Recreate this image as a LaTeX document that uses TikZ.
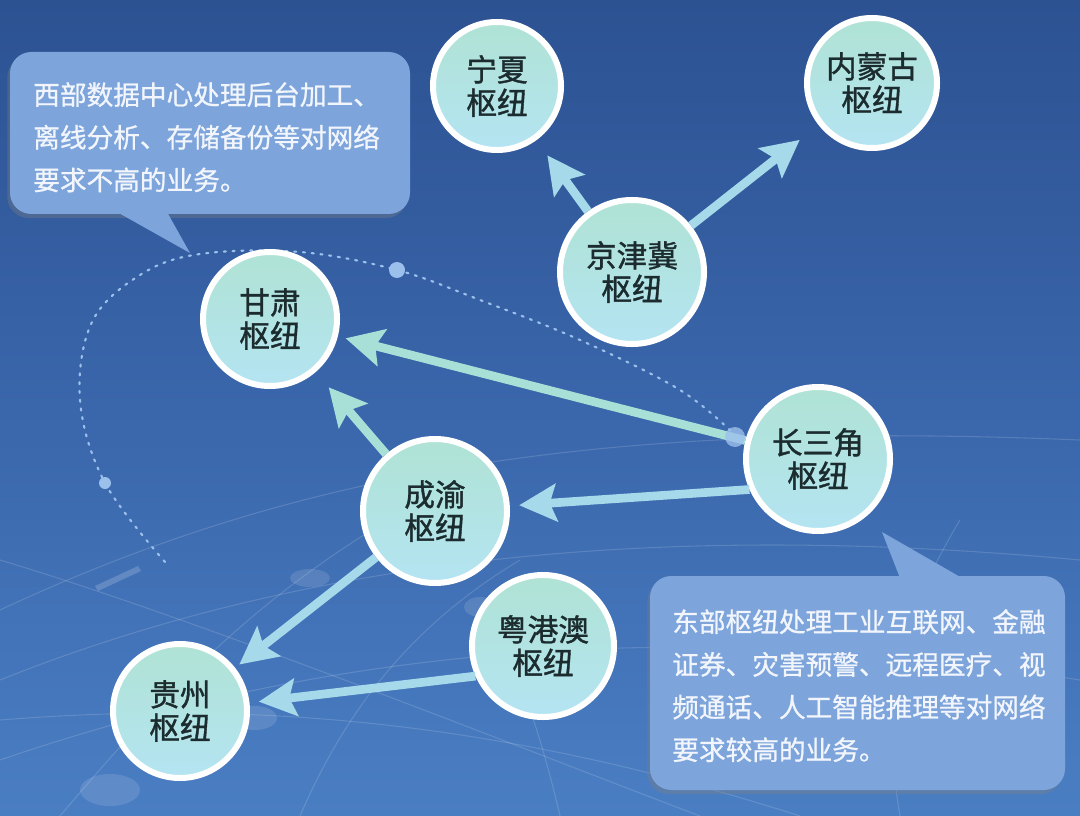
\documentclass[tikz,border=0pt]{standalone}
\usepackage{fontspec}
\newfontfamily\cjk{Noto Sans CJK SC}
\newfontfamily\cjkh[FakeBold=1.2]{Noto Sans CJK SC}
\newfontfamily\cjkc[FakeBold=0.8]{Noto Sans CJK SC}
\usetikzlibrary{arrows.meta,shadows,calc}
\definecolor{bgtop}{HTML}{2C5292}
\definecolor{bgmid}{HTML}{3A66AB}
\definecolor{bgbot}{HTML}{4A7EC3}
\definecolor{arrowc}{HTML}{A6D9EA}
\definecolor{arrowg}{HTML}{A8E0D8}
\definecolor{fillA}{HTML}{B0E3D5}
\definecolor{fillB}{HTML}{B4E4F2}
\definecolor{ntext}{HTML}{1B2B2E}
\definecolor{callfill}{HTML}{7DA5DB}
\definecolor{calltxt}{HTML}{F2F6FC}
\definecolor{orbitc}{HTML}{9CC0EC}
\tikzset{
  hub/.style={circle, draw=white, line width=4.5pt, top color=fillA, bottom color=fillB,
    text=ntext, align=center, inner sep=0pt, font=\cjkh\fontsize{23}{25}\selectfont},
  arr/.style={draw=arrowc, line width=6.5pt, -{Stealth[length=28pt,width=28pt,inset=5pt]}},
  callout/.style={fill=callfill, drop shadow={opacity=0.35, shadow xshift=-2pt, shadow yshift=-3pt}},
  calltext/.style={text=calltxt, align=left, inner sep=0pt, anchor=north west,
    font=\cjkc\fontsize{20}{32}\selectfont},
  deco/.style={draw=white, opacity=0.14, line width=0.8pt},
  orbit/.style={draw=orbitc, line width=1.6pt, dash pattern=on 1.6pt off 5pt, line cap=round}
}
\begin{document}
\begin{tikzpicture}[x=0.75pt,y=-0.75pt]
% background
\shade[top color=bgtop, bottom color=bgbot, middle color=bgmid] (0,0) rectangle (1080,816);
\useasboundingbox (0,0) rectangle (1080,816);
% faint globe lines
\draw[deco] (0,610) .. controls (300,470) and (600,420) .. (1080,440);
\draw[deco] (0,680) .. controls (300,560) and (650,520) .. (1080,560);
\draw[deco] (0,760) .. controls (350,640) and (700,620) .. (1080,680);
\draw[deco] (60,816) .. controls (200,650) and (300,560) .. (480,470);
\draw[deco] (300,816) .. controls (350,700) and (420,620) .. (520,560);
\draw[deco] (560,816) .. controls (540,730) and (520,680) .. (500,630);
\draw[deco] (0,560) .. controls (200,620) and (500,740) .. (700,816);
\draw[deco] (900,816) .. controls (880,700) and (900,620) .. (960,520);
\draw[deco] (0,720) .. controls (250,700) and (500,720) .. (800,816);
\fill[white, opacity=0.12] (110,790) ellipse (30 and 16);
\fill[white, opacity=0.12] (255,718) ellipse (22 and 12);
\fill[white, opacity=0.12] (480,607) ellipse (16 and 10);
\fill[white, opacity=0.12] (310,578) ellipse (20 and 9);
\fill[white, opacity=0.18] (95,586) -- (138,566) -- (141,571) -- (98,591) -- cycle;
% orbit
\draw[orbit] plot[smooth, tension=0.6] coordinates {(165,562) (105,483) (80,400) (92,322) (140,275) (200,254) (300,252) (397,270) (480,300) (580,340) (680,390) (735,435)};
\fill[orbitc] (397,270) circle (8);
\fill[orbitc] (105,483) circle (6);
% callouts
\path[callout] [rounded corners=16] (10,52) rectangle (410,214);
\fill[callfill] (117,212) -- (190,253) -- (167,212) -- cycle;
\path[callout] [rounded corners=16] (650,576) rectangle (1065,790);
\fill[callfill] (900,578) -- (882,532) -- (962,578) -- cycle;
\node[calltext] (tw) at (33,82) {西部数据中心处理后台加工、\\离线分析、存储备份等对网络\\要求不高的业务。};
\node[calltext] (te) at (672,609) {东部枢纽处理工业互联网、金融\\证券、灾害预警、远程医疗、视\\频通话、人工智能推理等对网络\\要求较高的业务。};
% hubs
\node[hub, minimum size=96pt] (nx) at (497,86) {宁夏\\枢纽};
\node[hub, minimum size=97.5pt] (nmg) at (872,83) {内蒙古\\枢纽};
\node[hub, minimum size=108pt] (jjj) at (632,272) {京津冀\\枢纽};
\node[hub, minimum size=100.5pt] (gs) at (270,319) {甘肃\\枢纽};
\node[hub, minimum size=108pt] (csj) at (818,459) {长三角\\枢纽};
\node[hub, minimum size=108pt] (cy) at (435,511) {成渝\\枢纽};
\node[hub, minimum size=106.5pt] (yga) at (543,646) {粤港澳\\枢纽};
\node[hub, minimum size=100.5pt] (gz) at (180,711) {贵州\\枢纽};
% arrows
\draw[arr, shorten >=14pt] (jjj) -- (nx);
\draw[arr, shorten >=18pt] (jjj) -- (nmg);
\draw[arr, draw=arrowg, shorten >=6pt] (csj) -- (gs);
\draw[arr, draw=arrowg, shorten >=15pt] (cy) -- (gs);
\draw[arr, shorten >=7pt] (csj.204) -- (cy);
\draw[arr, shorten >=4pt] (cy) -- (gz);
\draw[arr, shorten >=7pt] (yga.204) -- (gz);
\fill[orbitc, opacity=0.8] (735,437) circle (10);
\end{tikzpicture}
\end{document}
